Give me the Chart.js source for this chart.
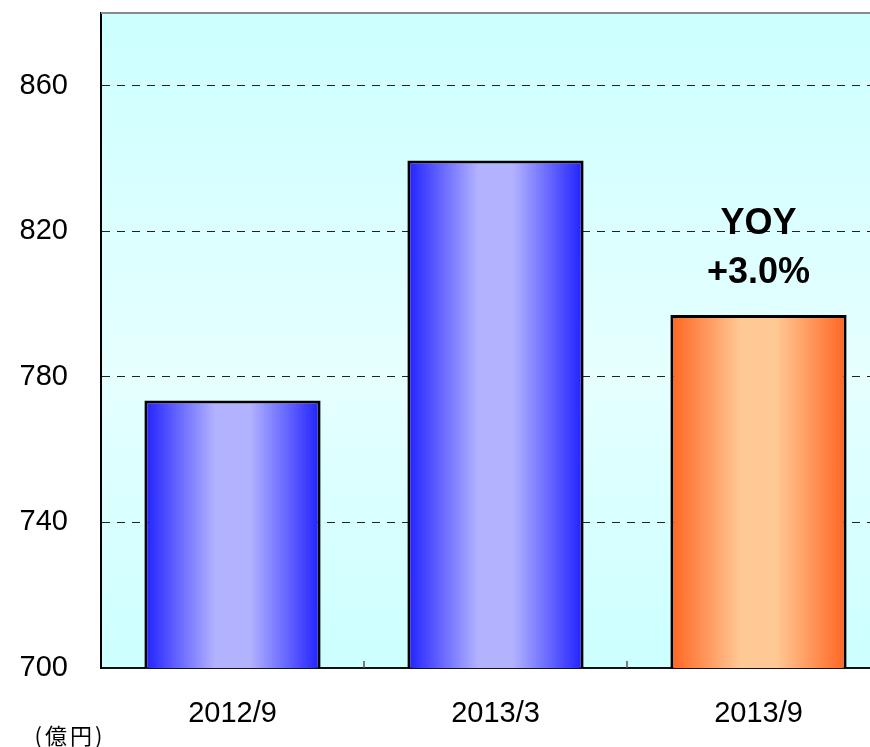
<!DOCTYPE html>
<html>
<head>
<meta charset="utf-8">
<script src="https://cdn.jsdelivr.net/npm/chart.js@4/dist/chart.umd.min.js"></script>
<style>
  html, body { margin: 0; padding: 0; background: #fff; overflow: hidden; }
  #wrap { position: relative; width: 900px; height: 747px; }
</style>
</head>
<body>
<div id="wrap"><canvas id="c"></canvas></div>
<script>
// 表示データ
const categories = ['2012/9', '2013/3', '2013/9'];
const values = [773.5, 839.5, 797];
const barTones = ['blue', 'blue', 'orange'];
const yMin = 700;
const yMax = 880;
const yTicks = [700, 740, 780, 820, 860];
const yoyLines = ['YOY', '+3.0%'];
const unitLabel = '(億円)';

// 棒の横方向グラデーション
const TONES = {
  blue: ['#2020ff', '#b2b2ff'],
  orange: ['#ff6420', '#ffc995'],
};

function barFill(ctx) {
  const chart = ctx.chart;
  const xs = chart.scales.x;
  const tone = TONES[barTones[ctx.dataIndex]] || TONES.blue;
  if (!xs || !chart.chartArea) return tone[0];
  const center = xs.getPixelForValue(ctx.dataIndex);
  const half = (xs.width / categories.length) * 0.67 / 2;
  const g = chart.ctx.createLinearGradient(center - half, 0, center + half, 0);
  g.addColorStop(0, tone[0]);
  g.addColorStop(0.4, tone[1]);
  g.addColorStop(0.6, tone[1]);
  g.addColorStop(1, tone[0]);
  return g;
}

// 背景・上枠・目盛り・注記
const decor = {
  id: 'decor',
  beforeDraw(chart) {
    const { ctx, chartArea: a } = chart;
    const g = ctx.createLinearGradient(0, a.top, 0, a.bottom);
    g.addColorStop(0, '#ccffff');
    g.addColorStop(0.55, '#e6ffff');
    g.addColorStop(1, '#ccffff');
    ctx.save();
    ctx.fillStyle = g;
    ctx.fillRect(a.left, a.top, a.right - a.left, a.bottom - a.top);
    ctx.restore();
  },
  afterDraw(chart) {
    const { ctx, chartArea: a } = chart;
    const xs = chart.scales.x;
    ctx.save();
    // 上枠
    ctx.strokeStyle = '#888';
    ctx.lineWidth = 2;
    ctx.beginPath();
    ctx.moveTo(a.left, a.top);
    ctx.lineTo(a.right, a.top);
    ctx.stroke();
    // 区切り目盛り（内向き）
    ctx.strokeStyle = '#555';
    ctx.lineWidth = 1.5;
    for (let i = 0; i < categories.length - 1; i++) {
      const x = (xs.getPixelForValue(i) + xs.getPixelForValue(i + 1)) / 2;
      ctx.beginPath();
      ctx.moveTo(x, a.bottom);
      ctx.lineTo(x, a.bottom - 7);
      ctx.stroke();
    }
    // YOY 注記
    const bar = chart.getDatasetMeta(0).data[2];
    ctx.fillStyle = '#000';
    ctx.font = 'bold 36px "Liberation Sans", Arial, sans-serif';
    ctx.textAlign = 'center';
    ctx.textBaseline = 'middle';
    ctx.fillText(yoyLines[0], bar.x, bar.y - 91);
    ctx.fillText(yoyLines[1], bar.x, bar.y - 42);
    // 単位
    ctx.font = '22px "Noto Sans CJK JP", sans-serif';
    ctx.letterSpacing = '3px';
    ctx.fillText(unitLabel, 70, 736);
    ctx.restore();
  },
};

new Chart(document.getElementById('c'), {
  type: 'bar',
  data: {
    labels: categories,
    datasets: [{
      data: values,
      backgroundColor: barFill,
      borderColor: '#000',
      borderWidth: 3,
      borderSkipped: false,
      categoryPercentage: 1,
      barPercentage: 0.67,
    }],
  },
  options: {
    responsive: true,
    maintainAspectRatio: false,
    animation: false,
    layout: { padding: { top: 13, right: 10, left: 0, bottom: 0 } },
    plugins: { legend: { display: false }, tooltip: { enabled: false } },
    scales: {
      x: {
        grid: { display: false, drawTicks: false },
        border: { display: true, color: '#111', width: 2 },
        ticks: {
          color: '#000',
          padding: 29,
          font: { family: '"Liberation Sans", Arial, sans-serif', size: 29 },
        },
        afterFit(scale) {
          scale.height = 79;
          scale.paddingLeft = 0;
          scale.paddingRight = 0;
        },
      },
      y: {
        min: yMin,
        max: yMax,
        grid: { color: '#222', lineWidth: 1, drawTicks: false },
        border: { display: true, color: '#000', width: 2, dash: [8, 7] },
        ticks: {
          color: '#000',
          padding: 33,
          font: { family: '"Liberation Sans", Arial, sans-serif', size: 29 },
        },
        afterBuildTicks(scale) {
          scale.ticks = yTicks.map(v => ({ value: v }));
        },
        afterFit(scale) {
          scale.width = 101;
          scale.paddingTop = 0;
          scale.paddingBottom = 0;
        },
      },
    },
  },
  plugins: [decor],
});
</script>
</body>
</html>
